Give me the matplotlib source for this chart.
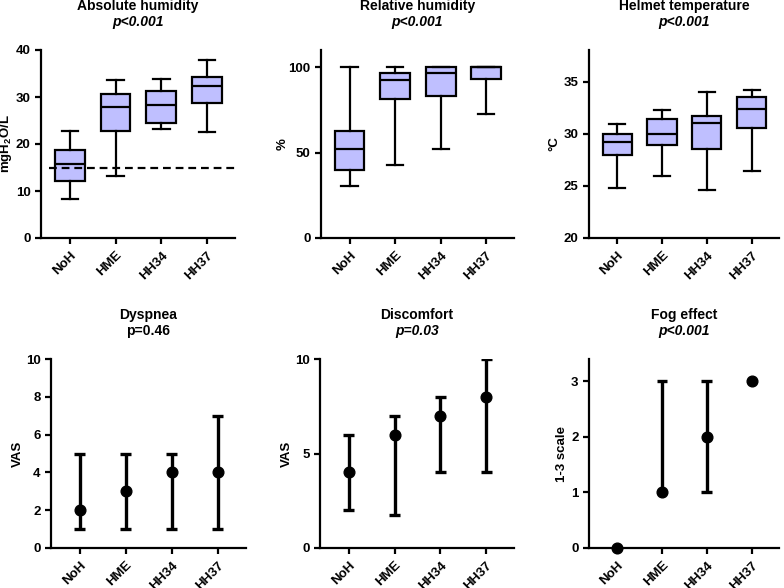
import matplotlib
matplotlib.use("Agg")
import matplotlib.pyplot as plt
import numpy as np

plt.rcParams['font.family'] = ['Liberation Sans', 'DejaVu Sans']
plt.rcParams['font.weight'] = 'bold'
plt.rcParams['mathtext.fontset'] = 'custom'
plt.rcParams['mathtext.rm'] = 'Liberation Sans:bold'
plt.rcParams['mathtext.it'] = 'Liberation Sans:bold:italic'
plt.rcParams['mathtext.bf'] = 'Liberation Sans:bold'

groups = ["NoH", "HME", "HH34", "HH37"]

# Box stats: [whisker_low, Q1, median, Q3, whisker_high]
abs_hum = [[8.3, 12.2, 15.7, 18.65, 22.7],
           [13.2, 22.7, 27.9, 30.6, 33.7],
           [23.1, 24.4, 28.4, 31.2, 33.8],
           [22.5, 28.8, 32.3, 34.3, 37.9]]
abs_ref = 15.0
rel_hum = [[30.5, 39.9, 52.3, 62.8, 100],
           [43.0, 81.1, 92.4, 96.7, 100],
           [51.8, 83.1, 96.5, 100, 100],
           [72.8, 92.8, 100, 100, 100]]
helmet_t = [[24.8, 28.0, 29.2, 29.95, 30.97],
            [26.0, 28.9, 30.0, 31.45, 32.3],
            [24.6, 28.6, 31.1, 31.7, 34.0],
            [26.4, 30.6, 32.4, 33.56, 34.2]]

# Median with range
dyspnea_med = [2, 3, 4, 4]
dyspnea_lo = [1, 1, 1, 1]
dyspnea_hi = [5, 5, 5, 7]
discomfort_med = [4, 6, 7, 8]
discomfort_lo = [2, 1.75, 4, 4]
discomfort_hi = [6, 7, 8, 10]
fog_med = [0, 1, 2, 3]
fog_lo = [0, 1, 1, 3]
fog_hi = [0, 3, 3, 3]

W, H = 784, 588
fig = plt.figure(figsize=(W / 100, H / 100), dpi=100)

def ax_at(l, r, t, b):
    return fig.add_axes([l / W, 1 - b / H, (r - l) / W, (b - t) / H])

LW = 1.6
BOXC = '#BFBFFF'

def style(ax, yticks, ylim, ylabel, labx):
    for s in ['top', 'right']:
        ax.spines[s].set_visible(False)
    for s in ['left', 'bottom']:
        ax.spines[s].set_linewidth(LW)
    ax.set_xlim(-0.63, 3.61)
    ax.set_ylim(*ylim)
    ax.set_yticks(yticks)
    ax.set_xticks(range(len(groups)))
    ax.set_xticklabels(groups, rotation=45, ha='right', rotation_mode='anchor',
                       fontsize=9.5, fontweight='bold')
    ax.tick_params(axis='both', width=LW, length=4, labelsize=9.5, direction='out')
    ax.tick_params(axis='x', pad=4)
    for lab in ax.get_yticklabels():
        lab.set_fontweight('bold')
    ax.set_ylabel(ylabel, fontsize=9.5, fontweight='bold', va='center')
    ax.yaxis.set_label_coords(labx, 0.5)

def title(ax, t1, t2, italic=True):
    ax.text(0.5, 1.234, t1, transform=ax.transAxes, ha='center', va='center',
            fontsize=10, fontweight='bold')
    ax.text(0.5, 1.149, t2, transform=ax.transAxes, ha='center', va='center',
            fontsize=10, fontweight='bold', style='italic' if italic else 'normal')

def boxes(ax, stats):
    bx = []
    for i, s in enumerate(stats):
        bx.append(dict(whislo=s[0], q1=s[1], med=s[2], q3=s[3], whishi=s[4],
                       label=groups[i]))
    ax.bxp(bx, positions=range(len(stats)), widths=0.65, patch_artist=True,
           showfliers=False, capwidths=0.36,
           boxprops=dict(facecolor=BOXC, edgecolor='black', linewidth=LW),
           medianprops=dict(color='black', linewidth=LW),
           whiskerprops=dict(color='black', linewidth=LW),
           capprops=dict(color='black', linewidth=LW))

def medrange(ax, med, lo, hi):
    x = np.arange(len(med))
    med = np.array(med, float)
    lo = np.array(lo, float)
    hi = np.array(hi, float)
    for i in range(len(med)):
        if hi[i] > lo[i]:
            ax.vlines(x[i], lo[i], hi[i], color='black', linewidth=2.4, zorder=2)
            for v in (lo[i], hi[i]):
                if v != med[i]:
                    ax.hlines(v, x[i] - 0.12, x[i] + 0.12, color='black',
                              linewidth=2.4, zorder=2)
    ax.plot(x, med, 'o', color='black', markersize=7.7, zorder=3, clip_on=False)

# Row 1
ax1 = ax_at(41, 235, 50, 238)
boxes(ax1, abs_hum)
ax1.hlines(abs_ref, -0.46, 3.61, colors='black', linestyles=(0, (3.5, 2.2)), linewidth=1.6, zorder=3)
style(ax1, [0, 10, 20, 30, 40], (0, 40), 'mgH$_2$O/L', -0.18)
title(ax1, 'Absolute humidity', 'p<0.001')

ax2 = ax_at(321, 514, 50, 238)
boxes(ax2, rel_hum)
style(ax2, [0, 50, 100], (0, 110), '%', -0.20)
title(ax2, 'Relative humidity', 'p<0.001')

ax3 = ax_at(589, 779, 50, 238)
boxes(ax3, helmet_t)
style(ax3, [20, 25, 30, 35], (20, 38.07), '°C', -0.184)
title(ax3, 'Helmet temperature', 'p<0.001')

# Row 2
ax4 = ax_at(51, 246, 359, 548)
medrange(ax4, dyspnea_med, dyspnea_lo, dyspnea_hi)
style(ax4, [0, 2, 4, 6, 8, 10], (0, 10), 'VAS', -0.17)
title(ax4, 'Dyspnea', 'p=0.46', italic=False)

ax5 = ax_at(320, 514, 359, 548)
medrange(ax5, discomfort_med, discomfort_lo, discomfort_hi)
style(ax5, [0, 5, 10], (0, 10), 'VAS', -0.17)
title(ax5, 'Discomfort', 'p=0.03')

ax6 = ax_at(589, 779, 359, 548)
medrange(ax6, fog_med, fog_lo, fog_hi)
style(ax6, [0, 1, 2, 3], (0, 3.4), '1-3 scale', -0.142)
title(ax6, 'Fog effect', 'p<0.001')

fig.savefig('out.png', dpi=100)
